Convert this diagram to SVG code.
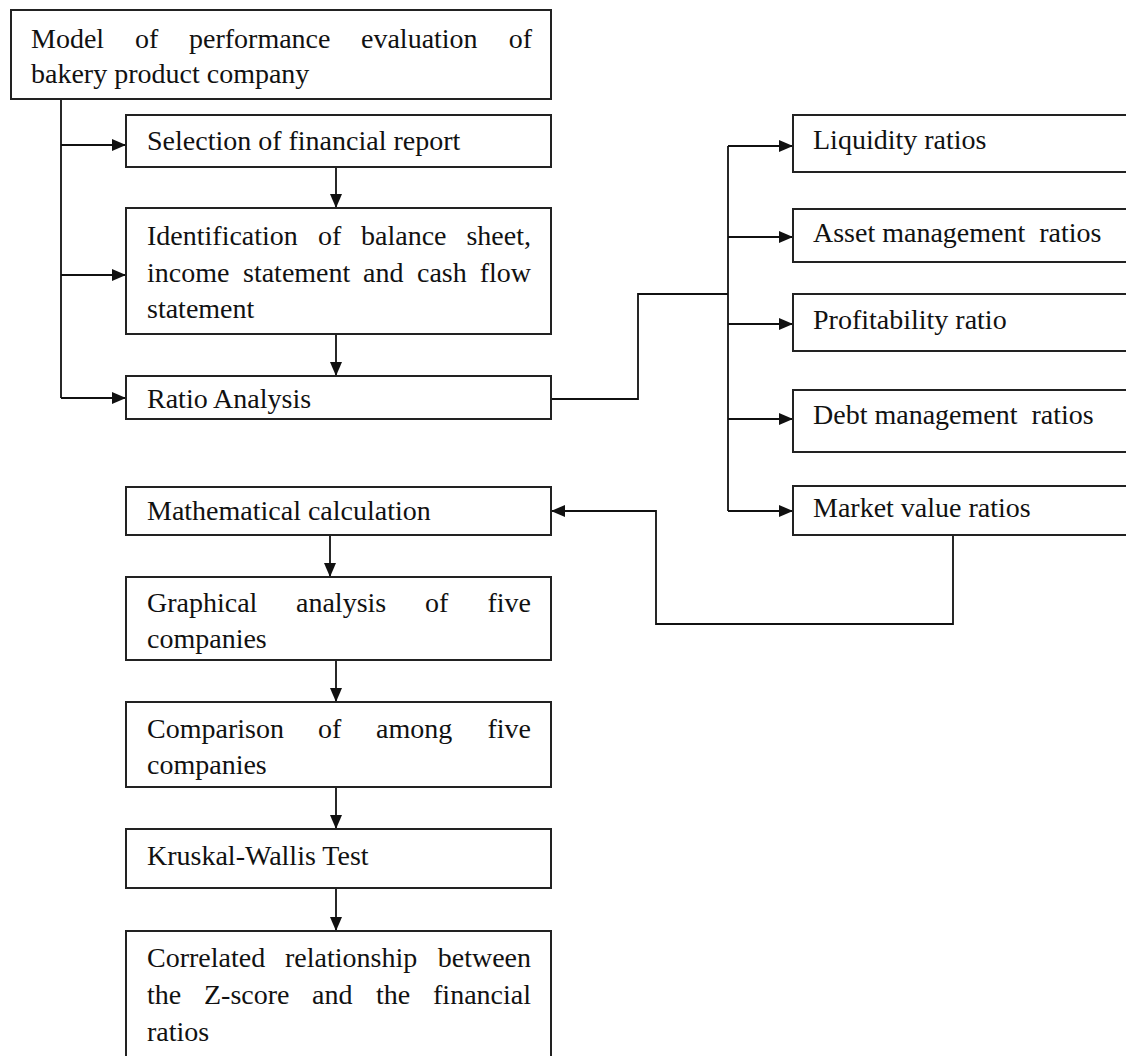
<svg xmlns="http://www.w3.org/2000/svg" width="1126" height="1056" viewBox="0 0 1126 1056">
<style>
.box{fill:#fff;stroke:#222;stroke-width:2}
.t{font-family:"Liberation Serif","Times New Roman",serif;font-size:28px;fill:#111}
.e{text-anchor:end}
.c{fill:none;stroke:#111;stroke-width:1.8}
</style>
<defs>
<marker id="ah" markerUnits="userSpaceOnUse" markerWidth="14" markerHeight="12" refX="13" refY="6" orient="auto">
<path d="M0,0 L14,6 L0,12 Z" fill="#111"/>
</marker>
</defs>
<rect width="1126" height="1056" fill="#fff"/>
<g id="connectors">
<path class="c" d="M61 99 V398"/>
<path class="c" d="M61 145 H125" marker-end="url(#ah)"/>
<path class="c" d="M61 275 H125" marker-end="url(#ah)"/>
<path class="c" d="M61 398 H125" marker-end="url(#ah)"/>
<path class="c" d="M336 167 V207" marker-end="url(#ah)"/>
<path class="c" d="M336 334 V375" marker-end="url(#ah)"/>
<path class="c" d="M551 399 H638 V294 H728"/>
<path class="c" d="M728 146 V511"/>
<path class="c" d="M728 146 H792" marker-end="url(#ah)"/>
<path class="c" d="M728 237 H792" marker-end="url(#ah)"/>
<path class="c" d="M728 324 H792" marker-end="url(#ah)"/>
<path class="c" d="M728 419 H792" marker-end="url(#ah)"/>
<path class="c" d="M728 511 H792" marker-end="url(#ah)"/>
<path class="c" d="M953 535 V624 H656 V511 H552" marker-end="url(#ah)"/>
<path class="c" d="M330 535 V576" marker-end="url(#ah)"/>
<path class="c" d="M336 660 V701" marker-end="url(#ah)"/>
<path class="c" d="M336 787 V828" marker-end="url(#ah)"/>
<path class="c" d="M336 888 V930" marker-end="url(#ah)"/>
</g>
<g id="model">
<rect class="box" x="11" y="10" width="540" height="89"/>
<text class="t" y="48"><tspan x="31">Model</tspan><tspan x="135">of</tspan><tspan x="189">performance</tspan><tspan x="361">evaluation</tspan></text>
<text class="t e" x="532" y="48">of</text>
<text class="t" x="31" y="83">bakery product company</text>
</g>
<g id="selection">
<rect class="box" x="126" y="115" width="425" height="52"/>
<text class="t" x="147" y="150">Selection of financial report</text>
</g>
<g id="identification">
<rect class="box" x="126" y="208" width="425" height="126"/>
<text class="t" y="245"><tspan x="147">Identification</tspan><tspan x="318">of</tspan><tspan x="361">balance</tspan></text>
<text class="t e" x="531" y="245">sheet,</text>
<text class="t" y="282"><tspan x="147">income</tspan><tspan x="243">statement</tspan><tspan x="363">and</tspan><tspan x="417">cash</tspan></text>
<text class="t e" x="531" y="282">flow</text>
<text class="t" x="147" y="318">statement</text>
</g>
<g id="ratio">
<rect class="box" x="126" y="376" width="425" height="43"/>
<text class="t" x="147" y="408">Ratio Analysis</text>
</g>
<g id="liquidity">
<rect class="box" x="793" y="115" width="345" height="57"/>
<text class="t" x="813" y="149">Liquidity ratios</text>
</g>
<g id="asset">
<rect class="box" x="793" y="209" width="345" height="53"/>
<text class="t" x="813" y="242" xml:space="preserve">Asset management  ratios</text>
</g>
<g id="profitability">
<rect class="box" x="793" y="294" width="345" height="57"/>
<text class="t" x="813" y="329">Profitability ratio</text>
</g>
<g id="debt">
<rect class="box" x="793" y="390" width="345" height="62"/>
<text class="t" x="813" y="424" xml:space="preserve">Debt management  ratios</text>
</g>
<g id="market">
<rect class="box" x="793" y="486" width="345" height="49"/>
<text class="t" x="813" y="517">Market value ratios</text>
</g>
<g id="math">
<rect class="box" x="126" y="487" width="425" height="48"/>
<text class="t" x="147" y="520">Mathematical calculation</text>
</g>
<g id="graphical">
<rect class="box" x="126" y="577" width="425" height="83"/>
<text class="t" y="612"><tspan x="147">Graphical</tspan><tspan x="296">analysis</tspan><tspan x="425">of</tspan></text>
<text class="t e" x="531" y="612">five</text>
<text class="t" x="147" y="648">companies</text>
</g>
<g id="comparison">
<rect class="box" x="126" y="702" width="425" height="85"/>
<text class="t" y="738"><tspan x="147">Comparison</tspan><tspan x="318">of</tspan><tspan x="376">among</tspan></text>
<text class="t e" x="531" y="738">five</text>
<text class="t" x="147" y="774">companies</text>
</g>
<g id="kruskal">
<rect class="box" x="126" y="829" width="425" height="59"/>
<text class="t" x="147" y="865">Kruskal-Wallis Test</text>
</g>
<g id="correlated">
<rect class="box" x="126" y="931" width="425" height="140"/>
<text class="t" y="967"><tspan x="147">Correlated</tspan><tspan x="285">relationship</tspan></text>
<text class="t e" x="531" y="967">between</text>
<text class="t" y="1004"><tspan x="147">the</tspan><tspan x="204">Z-score</tspan><tspan x="312">and</tspan><tspan x="376">the</tspan></text>
<text class="t e" x="531" y="1004">financial</text>
<text class="t" x="147" y="1041">ratios</text>
</g>
</svg>
